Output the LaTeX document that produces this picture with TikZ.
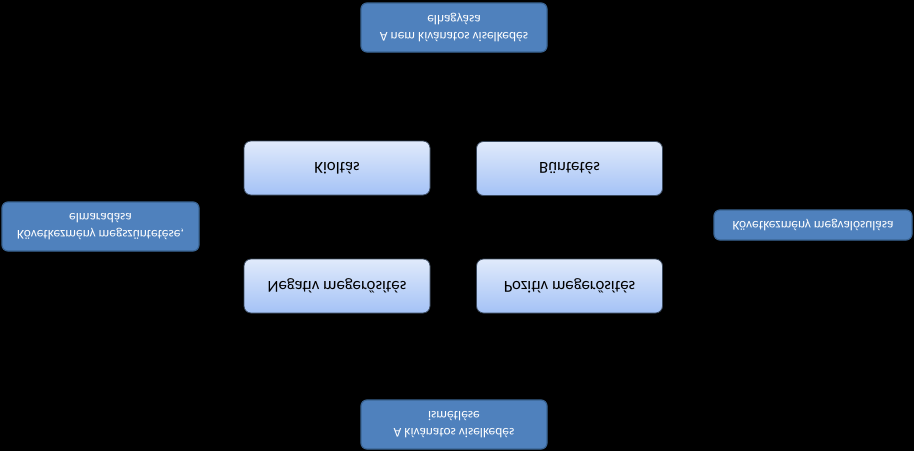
\documentclass[tikz,border=0pt]{standalone}
\usepackage{fontspec}
\setmainfont{Carlito}
\usepackage{tikz}
\usetikzlibrary{positioning}

\definecolor{outerblue}{HTML}{4F81BD}
\definecolor{outerline}{HTML}{3A6493}
\definecolor{innertop}{HTML}{A4C2F6}
\definecolor{innerbot}{HTML}{E0EAFB}
\definecolor{innerline}{HTML}{3B4A5E}

\begin{document}
\begin{tikzpicture}[x=1pt,y=-1pt,
    outer/.style={draw=outerline, line width=1.2pt, fill=outerblue, rounded corners=6pt,
      text=white, font=\fontsize{13.4}{16.5}\selectfont, align=center, inner sep=0pt,
      minimum width=#1, yscale=-1},
    inner/.style={draw=innerline, line width=0.8pt, rounded corners=7pt,
      top color=innerbot, bottom color=innertop, text=black,
      font=\fontsize{16.8}{19}\selectfont, align=center, inner sep=0pt,
      minimum width=186pt, minimum height=54pt, yscale=-1}]
    \fill[black] (0,0) rectangle (914,451);
    \useasboundingbox (0,0) rectangle (914,451);

    % four middle boxes
    \node[inner] (punish)  at (337,168)   {Kioltás};
    \node[inner] (extinct) at (569.5,168.5) {Büntetés};
    \node[inner] (negrein) at (337,286)   {Negatív megerősítés};
    \node[inner] (posrein) at (569.5,286) {Pozitív megerősítés};

    % outer labels
    \node[outer=186pt, minimum height=49pt] (top)    at (454,27.5)
      {A nem kívánatos viselkedés\\elhagyása};
    \node[outer=186pt, minimum height=49pt] (bottom) at (454,424.5)
      {A kívánatos viselkedés\\ismétlése};
    \node[outer=197pt, minimum height=49pt] (left)   at (100.5,226.5)
      {Következmény megszüntetése,\\elmaradása};
    \node[outer=198pt, minimum height=30pt] (right)  at (813,225)
      {Következmény megvalósulása};
\end{tikzpicture}
\end{document}
